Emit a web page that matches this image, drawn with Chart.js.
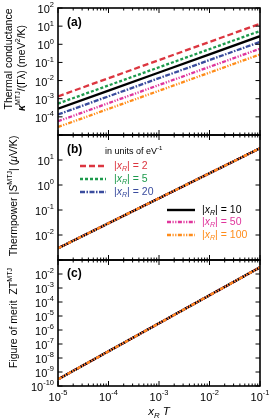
<!DOCTYPE html>
<html>
<head>
<meta charset="utf-8">
<script src="https://cdn.jsdelivr.net/npm/chart.js@4.4.1/dist/chart.umd.min.js"></script>
<style>
  html, body { margin: 0; padding: 0; background: #fff; }
  #wrap { position: relative; width: 270px; height: 419px; overflow: hidden; }
  #wrap canvas { position: absolute; left: 0; top: 0; }
</style>
</head>
<body>
<div id="wrap">
  <canvas id="chart-a" width="270" height="419"></canvas>
  <canvas id="chart-b" width="270" height="419"></canvas>
  <canvas id="chart-c" width="270" height="419"></canvas>
</div>
<script>
// x_R T sample points, one per decade (curves are straight on log-log)
const xRT = [1e-5, 1e-4, 1e-3, 1e-2, 1e-1];

// (a) thermal conductance kappa/(Gamma lambda), meV^2/K, one array per |x_R|
const kappaXR2   = [1.35e-3, 1.35e-2, 1.35e-1, 1.35, 13.5];
const kappaXR5   = [5.4e-4, 5.4e-3, 5.4e-2, 0.54, 5.4];
const kappaXR10  = [2.8e-4, 2.8e-3, 2.8e-2, 0.28, 2.8];
const kappaXR20  = [1.35e-4, 1.35e-3, 1.35e-2, 0.135, 1.35];
const kappaXR50  = [5.7e-5, 5.7e-4, 5.7e-3, 0.057, 0.57];
const kappaXR100 = [2.75e-5, 2.75e-4, 2.75e-3, 0.0275, 0.275];

// (b) thermopower |S|, uV/K -- all six curves fall on one line
const seebeckAll = [2.95e-3, 2.95e-2, 0.295, 2.95, 29.5];

// (c) figure of merit ZT -- all six curves fall on one line
const ztAll = [3.0e-10, 3.0e-8, 3.0e-6, 3.0e-4, 3.0e-2];

// tick decades
const xTickExp = [-5, -4, -3, -2, -1];
const yTickExpA = [-4, -3, -2, -1, 0, 1, 2];
const yTickExpB = [-2, -1, 0, 1];
const yTickExpC = [-10, -9, -8, -7, -6, -5, -4, -3, -2];

const FONT = '"Liberation Sans", Arial, Helvetica, sans-serif';

// draw order: first entry ends on top
const seriesStyle = [
    { key: '100', color: '#ff8c1a', dash: [4, 1.5, 1.2, 1.5, 1.2, 1.5], kappa: kappaXR100 },
    { key: '50',  color: '#e0359c', dash: [4, 1.5, 1.2, 1.5, 1.2, 1.5], kappa: kappaXR50 },
    { key: '10',  color: '#000000', dash: [],                         kappa: kappaXR10 },
    { key: '20',  color: '#3a4c9e', dash: [5, 1.5, 1.5, 1.5],         kappa: kappaXR20 },
    { key: '5',   color: '#1d9a4c', dash: [3, 2],                     kappa: kappaXR5 },
    { key: '2',   color: '#dc3640', dash: [6, 3],                     kappa: kappaXR2 },
];

function points(ys) {
    return xRT.map((x, i) => ({ x, y: ys[i] }));
}

// --- rich text (super/subscripts, italics) on canvas ---
function segFont(s, size) {
    const sz = (s.sup || s.sub) ? size * 0.68 : size;
    return `${s.it ? 'italic ' : ''}${s.bold ? 'bold ' : ''}${sz}px ${FONT}`;
}
function richWidth(ctx, segs, size) {
    let w = 0;
    segs.forEach(s => { ctx.font = segFont(s, size); w += ctx.measureText(s.t).width; });
    return w;
}
function drawRich(ctx, segs, x, y, size, align) {
    const w = richWidth(ctx, segs, size);
    let cx = align === 'center' ? x - w / 2 : align === 'right' ? x - w : x;
    ctx.textBaseline = 'middle';
    ctx.textAlign = 'left';
    segs.forEach(s => {
        ctx.font = segFont(s, size);
        const dy = s.sup ? -size * 0.42 : s.sub ? size * 0.3 : 0;
        ctx.fillText(s.t, cx, y + dy);
        cx += ctx.measureText(s.t).width;
    });
}
function pow10(e) {
    return [{ t: '10' }, { t: String(e), sup: true }];
}
function xRLabel(v) {
    return [{ t: '|' }, { t: 'x', it: true }, { t: 'R', it: true, sub: true }, { t: '| = ' + v }];
}

// frame, inward ticks on all sides, tick labels, titles
function axesPlugin(p) {
    return {
        id: 'axes-' + p.name,
        afterDatasetsDraw(chart) {
            const { ctx, chartArea: a, scales: { x, y } } = chart;
            ctx.save();
            ctx.strokeStyle = '#000';
            ctx.fillStyle = '#000';
            ctx.lineWidth = 1;
            ctx.beginPath();
            xTickExp.forEach(e => {
                const base = Math.pow(10, e);
                const px = x.getPixelForValue(base);
                ctx.moveTo(px, a.top); ctx.lineTo(px, a.top + 5);
                ctx.moveTo(px, a.bottom); ctx.lineTo(px, a.bottom - 5);
                if (e < -1) {
                    for (let m = 2; m <= 9; m++) {
                        const q = x.getPixelForValue(m * base);
                        ctx.moveTo(q, a.top); ctx.lineTo(q, a.top + 2.5);
                        ctx.moveTo(q, a.bottom); ctx.lineTo(q, a.bottom - 2.5);
                    }
                }
            });
            for (let e = p.yMinExp; e <= p.yMaxExp; e++) {
                const py = y.getPixelForValue(Math.pow(10, e));
                ctx.moveTo(a.left, py); ctx.lineTo(a.left + 4.5, py);
                ctx.moveTo(a.right, py); ctx.lineTo(a.right - 4.5, py);
            }
            ctx.stroke();

            ctx.lineWidth = 1.6;
            ctx.strokeRect(a.left, a.top, a.right - a.left, a.bottom - a.top);

            // y tick labels
            p.yLabels.forEach(e => {
                const py = y.getPixelForValue(Math.pow(10, e));
                drawRich(ctx, pow10(e), 54, py + 2, 11, 'right');
            });
            // x tick labels only under the last panel
            if (p.xLabels) {
                xTickExp.forEach(e => {
                    const px = x.getPixelForValue(Math.pow(10, e));
                    drawRich(ctx, pow10(e), px, a.bottom + 12, 11, 'center');
                });
                drawRich(ctx, [{ t: 'x', it: true }, { t: 'R', it: true, sub: true }, { t: ' ' }, { t: 'T', it: true }],
                    (a.left + a.right) / 2, a.bottom + 26, 11.5, 'center');
            }

            // panel letter
            drawRich(ctx, [{ t: p.letter, bold: true }], a.left + 9, p.letterY, 12, 'left');

            // rotated y title(s)
            p.titles.forEach(tl => {
                ctx.save();
                ctx.translate(tl.x, tl.y);
                ctx.rotate(-Math.PI / 2);
                drawRich(ctx, tl.segs, 0, 0, 10.5, 'center');
                ctx.restore();
            });

            if (p.legend) p.legend(ctx);
            ctx.restore();
        },
    };
}

function drawLegend(ctx) {
    ctx.fillStyle = '#000';
    drawRich(ctx, [{ t: 'in units of eV' }, { t: '-1', sup: true }], 105, 152, 9, 'left');
    const entries = [
        { key: '2',   x0: 80,  x1: 106, lx: 114, y: 166 },
        { key: '5',   x0: 80,  x1: 106, lx: 114, y: 179 },
        { key: '20',  x0: 80,  x1: 106, lx: 114, y: 192 },
        { key: '10',  x0: 167, x1: 195, lx: 202, y: 210 },
        { key: '50',  x0: 167, x1: 195, lx: 202, y: 222 },
        { key: '100', x0: 167, x1: 195, lx: 202, y: 235 },
    ];
    entries.forEach(en => {
        const st = seriesStyle.find(s => s.key === en.key);
        ctx.save();
        ctx.strokeStyle = st.color;
        ctx.lineWidth = 2.4;
        ctx.setLineDash(st.dash);
        ctx.beginPath();
        ctx.moveTo(en.x0, en.y);
        ctx.lineTo(en.x1, en.y);
        ctx.stroke();
        ctx.restore();
        ctx.fillStyle = st.color;
        drawRich(ctx, xRLabel(en.key), en.lx, en.y, 10.5, 'left');
    });
}

function makePanel(id, p) {
    const datasets = seriesStyle.map(s => ({
        label: '|x_R| = ' + s.key,
        data: points(p.values(s)),
        borderColor: s.color,
        borderDash: s.dash,
        borderWidth: 2.3,
        pointRadius: 0,
        fill: false,
        tension: 0,
    }));
    return new Chart(document.getElementById(id), {
        type: 'line',
        data: { datasets },
        options: {
            responsive: false,
            animation: false,
            events: [],
            layout: { padding: p.padding },
            plugins: { legend: { display: false }, tooltip: { enabled: false } },
            scales: {
                x: { type: 'logarithmic', min: 1e-5, max: 1e-1, display: false },
                y: { type: 'logarithmic', min: Math.pow(10, p.yMinExp), max: Math.pow(10, p.yMaxExp), display: false },
            },
        },
        plugins: [axesPlugin(p)],
    });
}

makePanel('chart-a', {
    name: 'a', letter: '(a)', letterY: 23,
    padding: { left: 58, right: 10, top: 8, bottom: 284 },
    yMinExp: -5, yMaxExp: 2, yLabels: yTickExpA,
    values: s => s.kappa,
    titles: [
        { x: 9, y: 59, segs: [{ t: 'Thermal conductance' }] },
        { x: 22, y: 68, segs: [{ t: 'κ', it: true, bold: true }, { t: 'MTJ', sup: true }, { t: '/(Γλ) (meV' }, { t: '2', sup: true }, { t: '/K)' }] },
    ],
});

makePanel('chart-b', {
    name: 'b', letter: '(b)', letterY: 150,
    padding: { left: 58, right: 10, top: 135, bottom: 159 },
    yMinExp: -3, yMaxExp: 2, yLabels: yTickExpB,
    values: () => seebeckAll,
    titles: [
        { x: 14, y: 196, segs: [{ t: 'Thermpower |' }, { t: 'S', it: true }, { t: 'MTJ', sup: true }, { t: '| (' }, { t: 'μ', it: true }, { t: 'V/K)' }] },
    ],
    legend: drawLegend,
});

makePanel('chart-c', {
    name: 'c', letter: '(c)', letterY: 274,
    padding: { left: 58, right: 10, top: 260, bottom: 33 },
    yMinExp: -10, yMaxExp: -1, yLabels: yTickExpC,
    values: () => ztAll,
    titles: [
        { x: 14, y: 318, segs: [{ t: 'Figure of merit  ' }, { t: 'ZT' }, { t: 'MTJ', sup: true }] },
    ],
    xLabels: true,
});
</script>
</body>
</html>
